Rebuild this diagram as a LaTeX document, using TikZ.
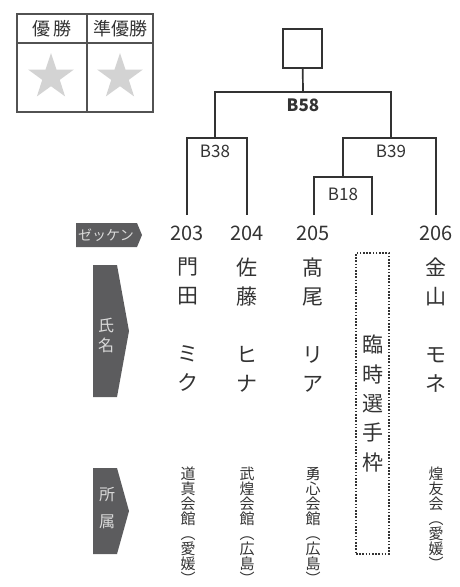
\documentclass[tikz,border=0pt]{standalone}
\usepackage{fontspec}
\setmainfont{Noto Sans CJK JP}
\usetikzlibrary{positioning}
\usetikzlibrary{shapes}
\definecolor{tagfill}{HTML}{5C5C5E}
\definecolor{tagfg}{HTML}{DADADA}
\definecolor{linegray}{HTML}{333333}
\definecolor{stargray}{HTML}{D3D3D3}
\tikzset{
        % Bracket lines
        bracket/.style={draw=linegray, line width=1.7pt},
        % Result table lines
        tableline/.style={draw=linegray!85, line width=1.4pt},
        % Result table heads
        cellhead/.style={inner sep=0pt, text=linegray, font=\fontsize{18}{18}\selectfont},
        % Stars in the result table
        starmark/.style={star, star points=5, star point ratio=2.6, fill=stargray, minimum size=48pt, inner sep=0pt},
        % Box for the winner
        winbox/.style={draw=linegray, line width=1.7pt, minimum size=39pt, inner sep=0pt},
        % Match numbers
        matchno/.style={inner sep=0pt, text=linegray, font=\fontsize{17}{17}\selectfont},
        % Bib numbers
        bibno/.style={inner sep=0pt, text=linegray, font=\fontsize{20}{20}\selectfont},
        % Player names, one character per line
        playername/.style={anchor=north, inner sep=0pt, align=center, text=linegray, font=\fontsize{21}{29}\selectfont},
        % Clubs, one character per line
        clubname/.style={anchor=north, inner sep=0pt, align=center, text=linegray, font=\fontsize{15}{15}\selectfont},
        % Open slot
        wildbox/.style={draw=linegray, line width=1.3pt, dash pattern=on 1.6pt off 1.6pt, minimum width=33pt, minimum height=301pt, inner sep=0pt, align=center, text=linegray, font=\fontsize{21}{29.3}\selectfont},
        % Row tags
        tagtext/.style={inner sep=0pt, align=center, text=tagfg}
}
\begin{document}
\begin{tikzpicture}[x=1pt, y=-1pt]
    \useasboundingbox (0,0) rectangle (459,587);
    % result table
    \draw[tableline] (17,14) rectangle (153,112);
    \draw[tableline] (17,43) -- (153,43);
    \draw[tableline] (87,14) -- (87,112);
    \node[cellhead] (hwin) at (52,29) {優\hspace{3pt}勝};
    \node[cellhead] (hrun) at (120,29) {準優勝};
    \node[starmark] (swin) at (51,77) {};
    \node[starmark] (srun) at (120,77) {};

    % row tags
    \fill[tagfill] (76,223) -- (137,223) -- (142,235) -- (137,247) -- (76,247) -- cycle;
    \fill[tagfill] (93,265) -- (117,265) -- (129,331) -- (117,397) -- (93,397) -- cycle;
    \fill[tagfill] (93,468) -- (117,468) -- (129,511) -- (117,554) -- (93,554) -- cycle;
    \node[tagtext, font=\fontsize{14}{14}\selectfont] (tbib) at (106,235) {ゼッケン};
    \node[tagtext, font=\fontsize{16}{20}\selectfont] (tname) at (106,335) {氏\\名};
    \node[tagtext, font=\fontsize{16}{27}\selectfont] (tclub) at (107,508.5) {所\\属};

    % bracket
    \node[winbox] (champ) at (302.5,48.5) {};
    \coordinate (b58) at (303,92);
    \coordinate (b38) at (215,138);
    \coordinate (b39) at (391,138);
    \coordinate (b18) at (343,177);
    \coordinate (t203) at (187,215);
    \coordinate (t204) at (247,215);
    \coordinate (t205) at (314,215);
    \coordinate (twc) at (372,215);
    \coordinate (t206) at (436,215);
    \draw[bracket] (t203) |- (b38) -| (t204);
    \draw[bracket] (t205) |- (b18) -| (twc);
    \draw[bracket] (b18) |- (b39) -| (t206);
    \draw[bracket] (b38) |- (b58) -| (b39);
    \draw[bracket] (b58) -- (champ);
    \node[matchno, font=\fontsize{17}{17}\selectfont\bfseries] (l58) at (303,105) {B58};
    \node[matchno] (l38) at (215,151) {B38};
    \node[matchno] (l39) at (391,151) {B39};
    \node[matchno] (l18) at (343,194) {B18};

    % players
    \node[bibno] (n203) at (187,233) {203};
    \node[bibno] (n204) at (247,233) {204};
    \node[bibno] (n205) at (313,233) {205};
    \node[bibno] (n206) at (436,233) {206};
    \node[playername] (p203) at (188,258) {門\\田\\[29pt]ミ\\ク};
    \node[playername] (p204) at (247,258) {佐\\藤\\[29pt]ヒ\\ナ};
    \node[playername] (p205) at (313,258) {髙\\尾\\[29pt]リ\\ア};
    \node[playername] (p206) at (436,258) {金\\山\\[29pt]モ\\ネ};
    \node[wildbox] (wc) at (372.5,403.5) {臨\\時\\選\\手\\枠};
    \node[clubname] (c203) at (188,467) {道\\真\\会\\館\\︵\\愛\\媛\\︶};
    \node[clubname] (c204) at (247,467) {武\\煌\\会\\館\\︵\\広\\島\\︶};
    \node[clubname] (c205) at (313,467) {勇\\心\\会\\館\\︵\\広\\島\\︶};
    \node[clubname] (c206) at (436,467) {煌\\友\\会\\︵\\愛\\媛\\︶};
\end{tikzpicture}
\end{document}
